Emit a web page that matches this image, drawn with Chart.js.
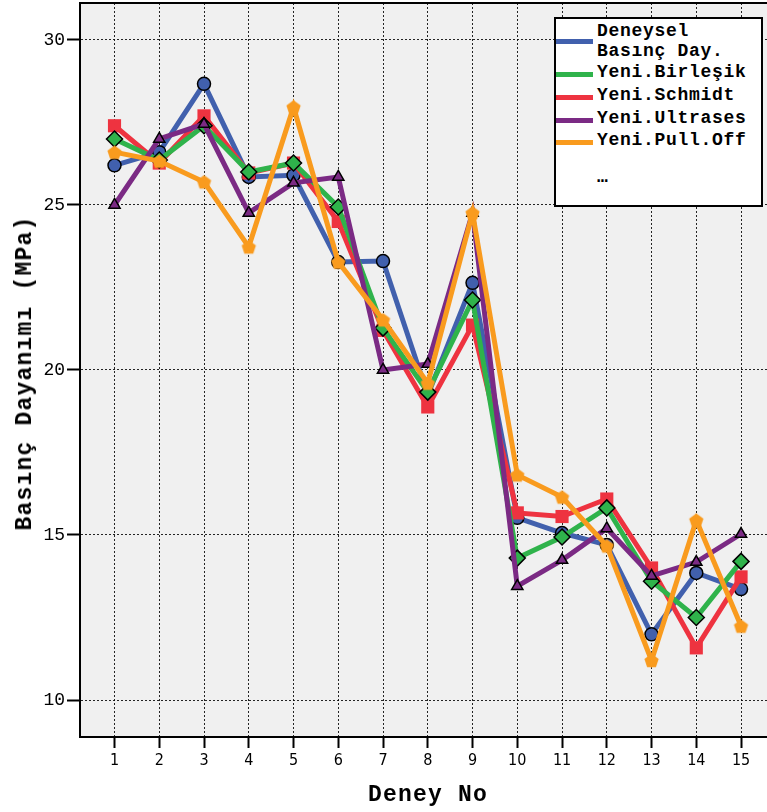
<!DOCTYPE html>
<html>
<head>
<meta charset="utf-8">
<script src="https://cdn.jsdelivr.net/npm/chart.js@4/dist/chart.umd.min.js"></script>
<style>
  html, body { margin: 0; padding: 0; background: #fff; }
  #wrap { position: relative; width: 767px; height: 812px; overflow: hidden; }
  #chart { position: absolute; left: 0; top: 0; }
  .axis-title {
    position: absolute; font-family: "Liberation Mono", "DejaVu Sans Mono", monospace;
    font-weight: bold; font-size: 23px; letter-spacing: 1.2px; color: #000; white-space: nowrap;
  }
  #xTitle { left: 428px; top: 795px; transform: translate(-50%, -50%); }
  #yTitle { left: 25px; top: 373px; transform: translate(-50%, -50%) rotate(-90deg); }
  #legend {
    position: absolute; left: 554px; top: 17px; width: 205px; height: 186px;
    background: #fff; border: 2px solid #000;
    font-family: "Liberation Mono", "DejaVu Sans Mono", monospace; font-weight: bold;
    font-size: 18px; letter-spacing: 0.7px; color: #000;
  }
  .lg-swatch { position: absolute; left: 0; width: 37px; height: 5px; }
  .lg-text { position: absolute; left: 41px; white-space: pre; line-height: 20px; }
</style>
</head>
<body>
<div id="wrap">
  <canvas id="chart" width="767" height="812"></canvas>
  <div id="legend"></div>
  <div id="xTitle" class="axis-title">Deney No</div>
  <div id="yTitle" class="axis-title">Basınç Dayanımı (MPa)</div>
</div>
<script>
// Test numbers on the x axis
const deneyNo = [1, 2, 3, 4, 5, 6, 7, 8, 9, 10, 11, 12, 13, 14, 15];
// Y axis tick values (MPa)
const yTicks = [10, 15, 20, 25, 30];

// Compressive strength per test (MPa)
const deneysel = [26.2, 26.6, 28.67, 25.85, 25.9, 23.27, 23.3, 19.24, 22.64, 15.52, 15.06, 14.7, 11.99, 13.85, 13.36];
const birlesik = [27.0, 26.36, 27.4, 26.0, 26.27, 24.94, 21.27, 19.33, 22.12, 14.3, 14.94, 15.82, 13.6, 12.5, 14.2];
const schmidt  = [27.4, 26.27, 27.7, 25.97, 26.27, 24.5, 21.2, 18.88, 21.36, 15.67, 15.56, 16.09, 14.0, 11.58, 13.73];
const ultrases = [25.0, 27.0, 27.45, 24.76, 25.67, 25.85, 20.0, 20.18, 24.76, 13.45, 14.24, 15.2, 13.76, 14.18, 15.03];
const pullOff  = [26.6, 26.33, 25.7, 23.73, 27.97, 23.27, 21.52, 19.6, 24.76, 16.82, 16.15, 14.67, 11.2, 15.45, 12.24];

const seriesLabels = ["Deneysel\nBasınç Day.", "Yeni.Birleşik", "Yeni.Schmidt", "Yeni.Ultrases", "Yeni.Pull.Off"];
const seriesColors = ["#4160ad", "#2fb34b", "#ee3340", "#7b2a84", "#f99b1e"];

// Pentagon marker for the Pull-Off series
function pentagon(color, r) {
  const s = Math.ceil(r * 2 + 2);
  const c = document.createElement('canvas');
  c.width = s; c.height = s;
  const g = c.getContext('2d');
  g.fillStyle = color;
  g.beginPath();
  for (let i = 0; i < 5; i++) {
    const a = -Math.PI / 2 + i * 2 * Math.PI / 5;
    const px = s / 2 + r * Math.cos(a), py = s / 2 + r * Math.sin(a) + 0.8;
    i ? g.lineTo(px, py) : g.moveTo(px, py);
  }
  g.closePath();
  g.fill();
  return c;
}

function toPoints(values) {
  return values.map((v, i) => ({ x: deneyNo[i], y: v }));
}

const datasets = [
  { label: seriesLabels[0], data: toPoints(deneysel), borderColor: seriesColors[0], backgroundColor: seriesColors[0],
    pointStyle: 'circle', pointRadius: 6.5, pointBorderColor: '#000', pointBorderWidth: 1.5, order: 4 },
  { label: seriesLabels[1], data: toPoints(birlesik), borderColor: seriesColors[1], backgroundColor: seriesColors[1],
    pointStyle: 'rectRot', pointRadius: 8, pointBorderColor: '#000', pointBorderWidth: 1.5, order: 2 },
  { label: seriesLabels[2], data: toPoints(schmidt), borderColor: seriesColors[2], backgroundColor: seriesColors[2],
    pointStyle: 'rect', pointRadius: 9.3, pointBorderColor: seriesColors[2], pointBorderWidth: 0, order: 3 },
  { label: seriesLabels[3], data: toPoints(ultrases), borderColor: seriesColors[3], backgroundColor: seriesColors[3],
    pointStyle: 'triangle', pointRadius: 6.5, pointBorderColor: '#000', pointBorderWidth: 1.5, order: 1 },
  { label: seriesLabels[4], data: toPoints(pullOff), borderColor: seriesColors[4], backgroundColor: seriesColors[4],
    pointStyle: pentagon(seriesColors[4], 7.5), pointRadius: 7.5, order: 0 }
];
datasets.forEach(d => { d.borderWidth = 5; d.tension = 0; d.fill = false; });

// Plot frame: grey background plus the top edge line
const frame = {
  id: 'frame',
  beforeDraw(chart) {
    const { ctx, chartArea: a } = chart;
    ctx.save();
    ctx.fillStyle = '#f0f0f0';
    ctx.fillRect(a.left, a.top, a.right - a.left, a.bottom - a.top);
    ctx.restore();
  },
  afterDraw(chart) {
    const { ctx, chartArea: a } = chart;
    ctx.save();
    ctx.strokeStyle = '#000';
    ctx.lineWidth = 2;
    ctx.beginPath();
    ctx.moveTo(a.left - 1, a.top);
    ctx.lineTo(a.right, a.top);
    ctx.stroke();
    ctx.restore();
  }
};

function noPad(s) { s.paddingTop = 0; s.paddingBottom = 0; s.paddingLeft = 0; s.paddingRight = 0; }

const gridCommon = { color: 'rgba(0,0,0,0.85)', lineWidth: 1, tickColor: '#000', tickWidth: 2, tickBorderDash: [] };

new Chart(document.getElementById('chart'), {
  type: 'line',
  data: { datasets },
  plugins: [frame],
  options: {
    responsive: false,
    animation: false,
    layout: { padding: { top: 3, left: 0, right: 0, bottom: 0 }, autoPadding: false },
    plugins: { legend: { display: false }, tooltip: { enabled: false } },
    scales: {
      x: {
        type: 'linear', min: 0.229, max: 15.58,
        afterBuildTicks: s => { s.ticks = deneyNo.map(v => ({ value: v })); },
        afterFit: s => { s.height = 75; noPad(s); },
        ticks: { font: { family: "'DejaVu Sans Condensed', 'Liberation Sans Narrow', sans-serif", size: 16 },
                 color: '#000', padding: 3, autoSkip: false, maxRotation: 0, callback: v => String(v) },
        grid: Object.assign({}, gridCommon, { tickLength: 11 }),
        border: { display: true, color: '#000', width: 2, dash: [2, 2] }
      },
      y: {
        type: 'linear', min: 8.879, max: 31.12,
        afterBuildTicks: s => { s.ticks = yTicks.map(v => ({ value: v })); },
        afterFit: s => { s.width = 80; noPad(s); },
        ticks: { font: { family: "'Liberation Mono', 'DejaVu Sans Mono', monospace", size: 18 },
                 color: '#000', padding: 2, callback: v => String(v) },
        grid: Object.assign({}, gridCommon, { tickLength: 13 }),
        border: { display: true, color: '#000', width: 2, dash: [2, 2] }
      }
    }
  }
});

// Legend box built from the series names and colours
(function buildLegend() {
  const box = document.getElementById('legend');
  const swatchY = [20, 53, 76, 99, 121];
  const textY = [2, 43, 66, 89, 111];
  seriesLabels.forEach((lab, i) => {
    const sw = document.createElement('div');
    sw.className = 'lg-swatch';
    sw.style.top = swatchY[i] + 'px';
    sw.style.background = seriesColors[i];
    box.appendChild(sw);
    const tx = document.createElement('div');
    tx.className = 'lg-text';
    tx.style.top = textY[i] + 'px';
    tx.textContent = lab;
    box.appendChild(tx);
  });
  const more = document.createElement('div');
  more.className = 'lg-text';
  more.style.top = '148px';
  more.textContent = '…';
  box.appendChild(more);
})();
</script>
</body>
</html>
